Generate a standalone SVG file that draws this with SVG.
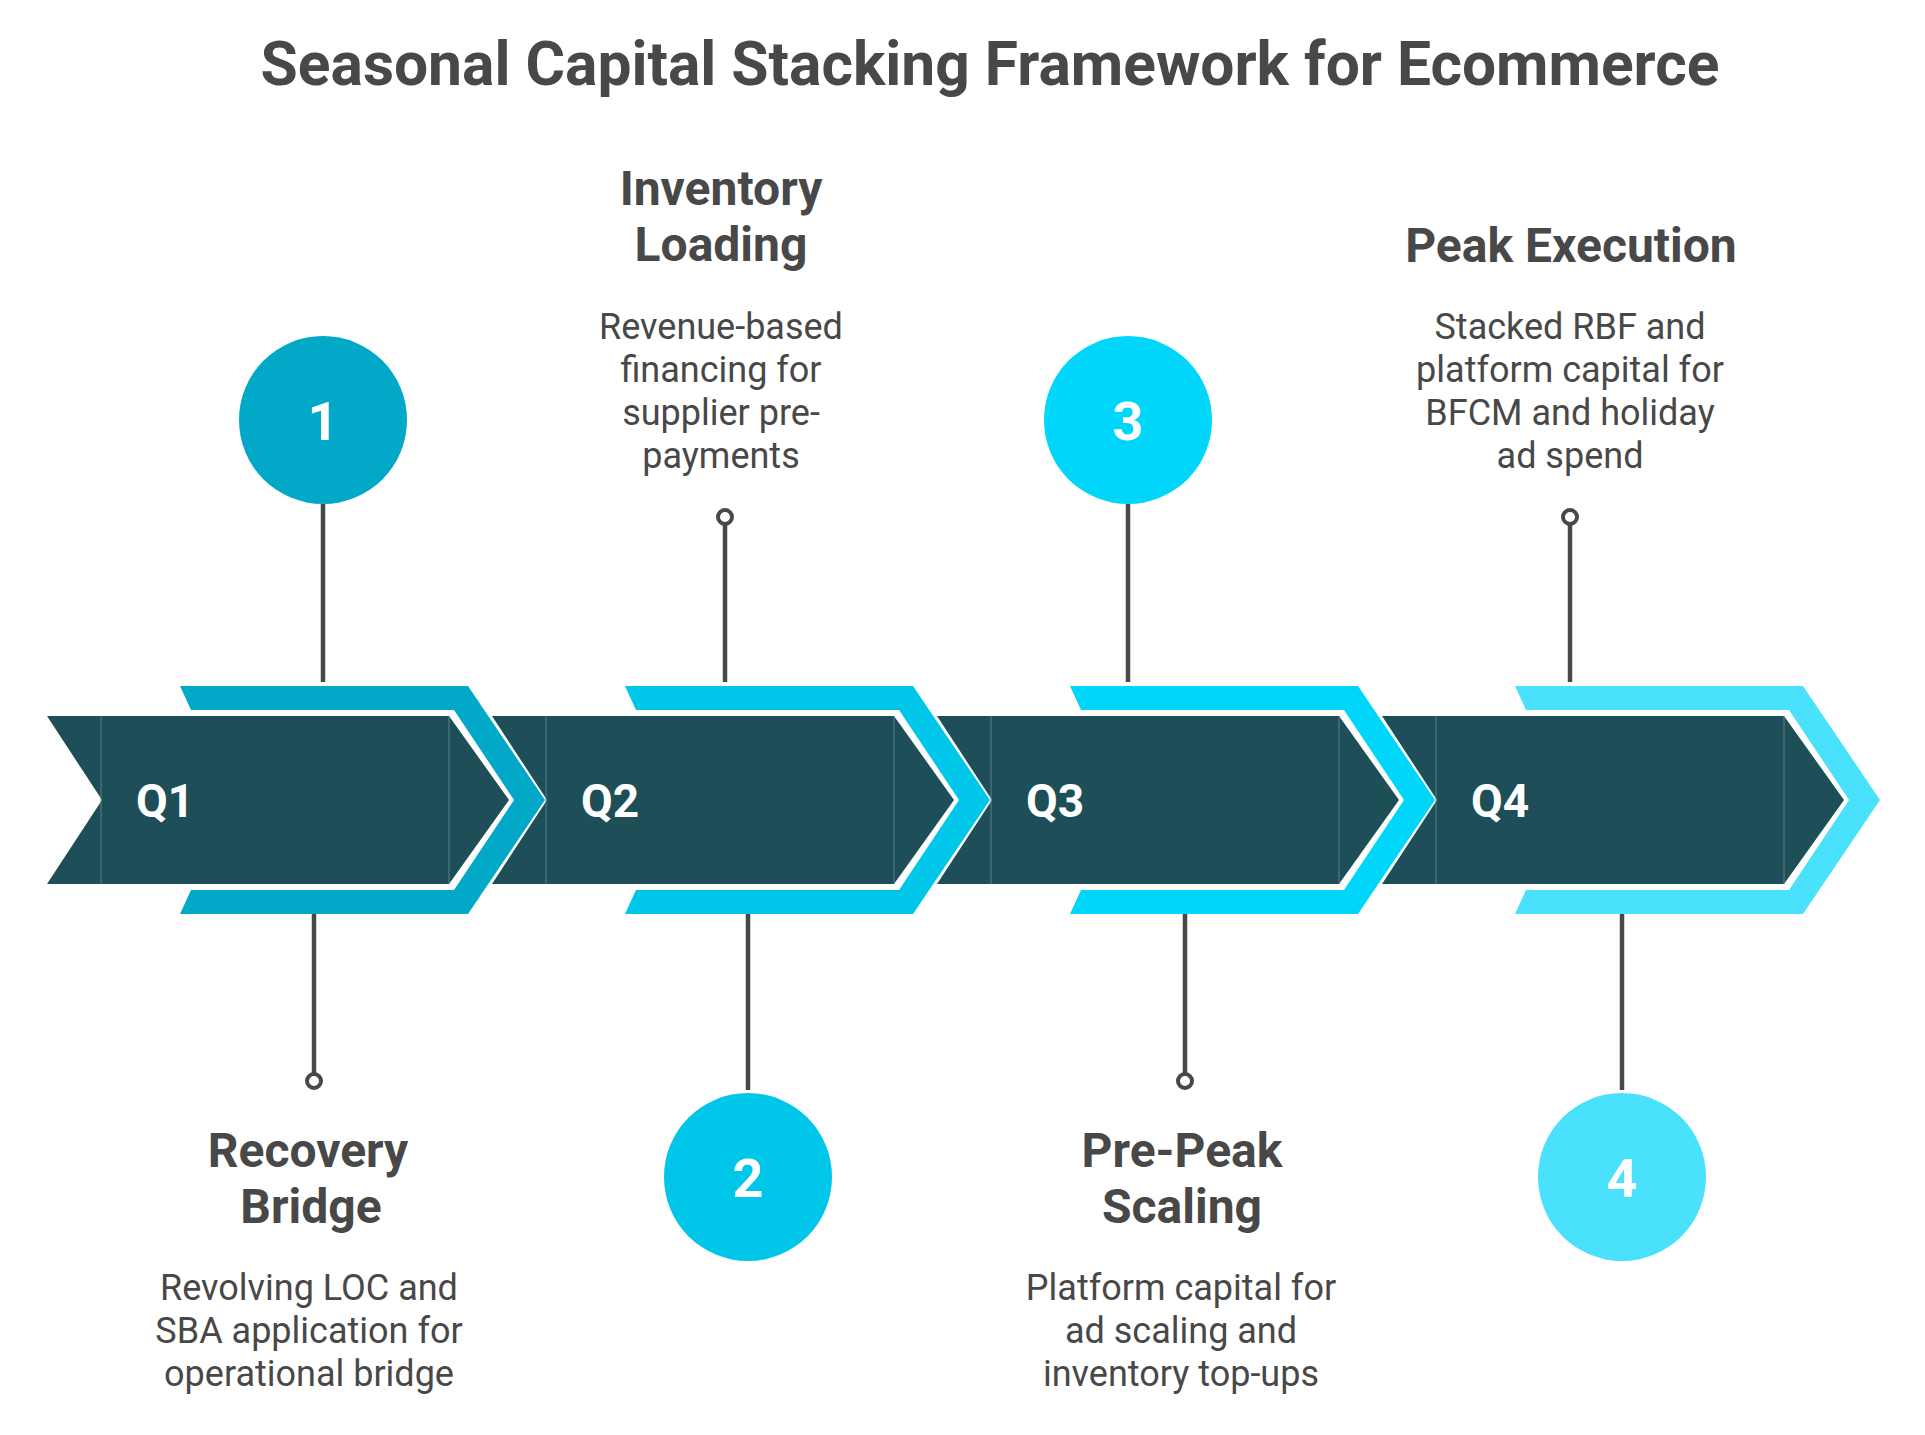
<svg xmlns="http://www.w3.org/2000/svg" width="1925" height="1435" viewBox="0 0 1925 1435">
<style>
.title{font-family:Roboto,"Liberation Sans",sans-serif;font-weight:700;font-size:60.5px;fill:#484848;text-anchor:middle}
.head{font-family:Roboto,"Liberation Sans",sans-serif;font-weight:700;font-size:48px;fill:#484848;text-anchor:middle}
.desc{font-family:Roboto,"Liberation Sans",sans-serif;font-weight:400;font-size:36px;fill:#484848;text-anchor:middle}
.q{font-family:Roboto,"Liberation Sans",sans-serif;font-weight:700;font-size:46px;fill:#ffffff}
.num{font-family:Roboto,"Liberation Sans",sans-serif;font-weight:700;font-size:54px;fill:#ffffff;text-anchor:middle}
.band{fill:#1E4E58}
.seam{stroke:#5d7f86;stroke-width:1}
.conn{stroke:#484848;stroke-width:4.5;fill:none}
.dot{stroke:#484848;stroke-width:4;fill:#ffffff}
</style>
<defs>
<polygon id="arrow" points="47,716 449,716 509,800 449,884 47,884 102,800"/>
<polygon id="chev" points="180,686 468,686 545,800 468,914 180,914 191,890 454,890 514,800 454,710 191,710"/>
</defs>
<rect width="1925" height="1435" fill="#ffffff"/>
<text class="title" x="990" y="85">Seasonal Capital Stacking Framework for Ecommerce</text>

<g id="connectors">
<line class="conn" x1="323" y1="504" x2="323" y2="682"/>
<line class="conn" x1="314" y1="914" x2="314" y2="1074"/>
<circle class="dot" cx="314" cy="1081" r="7"/>
<line class="conn" x1="725" y1="524" x2="725" y2="682"/>
<circle class="dot" cx="725" cy="517" r="7"/>
<line class="conn" x1="748" y1="914" x2="748" y2="1090"/>
<line class="conn" x1="1128" y1="504" x2="1128" y2="682"/>
<line class="conn" x1="1185" y1="914" x2="1185" y2="1074"/>
<circle class="dot" cx="1185" cy="1081" r="7"/>
<line class="conn" x1="1570" y1="524" x2="1570" y2="682"/>
<circle class="dot" cx="1570" cy="517" r="7"/>
<line class="conn" x1="1622" y1="914" x2="1622" y2="1090"/>
</g>

<g id="q1">
<use href="#arrow" class="band"/>
<line class="seam" x1="101" y1="716" x2="101" y2="884"/>
<line class="seam" x1="449" y1="716" x2="449" y2="884"/>
<use href="#chev" fill="#02A8C8"/>
<text class="q" x="136" y="817">Q1</text>
</g>
<g id="q2" transform="translate(445,0)">
<use href="#arrow" class="band"/>
<line class="seam" x1="101" y1="716" x2="101" y2="884"/>
<line class="seam" x1="449" y1="716" x2="449" y2="884"/>
<use href="#chev" fill="#00C6EA"/>
<text class="q" x="136" y="817">Q2</text>
</g>
<g id="q3" transform="translate(890,0)">
<use href="#arrow" class="band"/>
<line class="seam" x1="101" y1="716" x2="101" y2="884"/>
<line class="seam" x1="449" y1="716" x2="449" y2="884"/>
<use href="#chev" fill="#00D6FA"/>
<text class="q" x="136" y="817">Q3</text>
</g>
<g id="q4" transform="translate(1335,0)">
<use href="#arrow" class="band"/>
<line class="seam" x1="101" y1="716" x2="101" y2="884"/>
<line class="seam" x1="449" y1="716" x2="449" y2="884"/>
<use href="#chev" fill="#4AE1FD"/>
<text class="q" x="136" y="817">Q4</text>
</g>

<g id="circle1">
<circle cx="323" cy="420" r="84" fill="#02A8C8"/>
<text class="num" x="323" y="440">1</text>
</g>
<g id="circle2">
<circle cx="748" cy="1177" r="84" fill="#00C6EA"/>
<text class="num" x="748" y="1197">2</text>
</g>
<g id="circle3">
<circle cx="1128" cy="420" r="84" fill="#00D6FA"/>
<text class="num" x="1128" y="440">3</text>
</g>
<g id="circle4">
<circle cx="1622" cy="1177" r="84" fill="#4AE1FD"/>
<text class="num" x="1622" y="1197">4</text>
</g>

<g id="label1">
<text class="head" x="308" y="1167">Recovery</text>
<text class="head" x="311" y="1223">Bridge</text>
<text class="desc" x="309" y="1300">Revolving LOC and</text>
<text class="desc" x="309" y="1343">SBA application for</text>
<text class="desc" x="309" y="1386">operational bridge</text>
</g>
<g id="label2">
<text class="head" x="721" y="205">Inventory</text>
<text class="head" x="721" y="261">Loading</text>
<text class="desc" x="721" y="339">Revenue-based</text>
<text class="desc" x="721" y="382">financing for</text>
<text class="desc" x="721" y="425">supplier pre-</text>
<text class="desc" x="721" y="468">payments</text>
</g>
<g id="label3">
<text class="head" x="1182" y="1167">Pre-Peak</text>
<text class="head" x="1182" y="1223">Scaling</text>
<text class="desc" x="1181" y="1300">Platform capital for</text>
<text class="desc" x="1181" y="1343">ad scaling and</text>
<text class="desc" x="1181" y="1386">inventory top-ups</text>
</g>
<g id="label4">
<text class="head" x="1571" y="262">Peak Execution</text>
<text class="desc" x="1570" y="339">Stacked RBF and</text>
<text class="desc" x="1570" y="382">platform capital for</text>
<text class="desc" x="1570" y="425">BFCM and holiday</text>
<text class="desc" x="1570" y="468">ad spend</text>
</g>
</svg>
